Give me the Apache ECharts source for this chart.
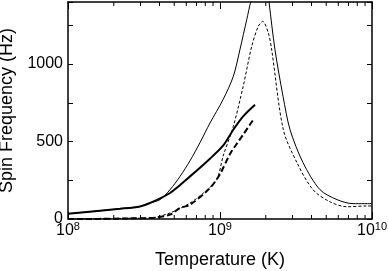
<!DOCTYPE html>
<html>
<head>
<meta charset="utf-8">
<script src="https://cdn.jsdelivr.net/npm/echarts@6/dist/echarts.min.js"></script>
<style>
html,body{margin:0;padding:0;background:#fff;}
#main{width:388px;height:271px;}
</style>
</head>
<body>
<div id="main"></div>
<script>
// temperatures (K) and spin frequencies (Hz)
var thinSolidT  = [1e8, 2.2e8, 2.98e8, 3.46e8, 4.03e8, 4.69e8, 5.46e8, 6.35e8, 7.38e8, 8.59e8, 1.047e9, 1.223e9, 1.354e9, 1.499e9, 1.592e9, 1.75e9, 1.89e9, 2.02e9, 2.1e9, 2.3e9, 2.6e9, 2.89e9, 3.52e9, 4.55e9, 5.89e9, 7.5e9, 1e10];
var thinSolidHz = [34, 66, 81, 103, 125, 189, 275, 376, 492, 619, 770, 920, 1095, 1286, 1402, 1570, 1660, 1540, 1402, 1092, 790, 576, 363, 189, 125, 99, 99];

var thinDashT  = [1e8, 1.62e8, 2.56e8, 3.46e8, 4.69e8, 6.35e8, 7.77e8, 9.51e8, 1.047e9, 1.223e9, 1.42e9, 1.617e9, 1.786e9, 1.91e9, 2.08e9, 2.19e9, 2.61e9, 3.21e9, 4.09e9, 5.29e9, 6.85e9, 9.27e9, 1e10];
var thinDashHz = [0, 2, 5, 6, 39, 103, 168, 254, 404, 597, 855, 1114, 1243, 1275, 1200, 1089, 576, 363, 189, 111, 79, 84, 84];

var thickSolidT  = [1e8, 2.2e8, 2.98e8, 3.46e8, 4.69e8, 6.35e8, 8.59e8, 1.047e9, 1.223e9, 1.42e9, 1.7e9];
var thickSolidHz = [34, 66, 81, 103, 168, 275, 389, 473, 576, 662, 737];

var thickDashT  = [1e8, 1.62e8, 2.56e8, 3.46e8, 4.69e8, 5.46e8, 6.35e8, 8.59e8, 1e9, 1.164e9, 1.3e9, 1.42e9, 1.656e9];
var thickDashHz = [0, 1, 4, 6, 28, 71, 92, 200, 290, 420, 490, 544, 641];

var minorTicks = [2e8, 3e8, 4e8, 5e8, 6e8, 7e8, 8e8, 9e8, 2e9, 3e9, 4e9, 5e9, 6e9, 7e9, 8e9, 9e9];
var yLabelled = [0, 500, 1000];

function pairs(xs, ys){
	var out = [];
	for (var i = 0; i < xs.length; i++) out.push([xs[i], ys[i]]);
	return out;
}

window.onload = function(){
	var myChart = echarts.init(document.getElementById('main'));
	var font = '"Liberation Sans", Arial, sans-serif';
	var edge = {show: true, onZero: false, lineStyle: {color: '#000', width: 1.5}};
	var option = {
		animation: false,
		backgroundColor: '#fff',
		textStyle: {fontFamily: font, color: '#000'},
		grid: {left: 68, right: 16, top: 2, bottom: 52, containLabel: false, outerBoundsMode: 'none'},
		xAxis: [{
			type: 'log',
			logBase: 10,
			min: 1e8,
			max: 1e10,
			position: 'bottom',
			name: 'Temperature (K)',
			nameLocation: 'middle',
			nameGap: 32,
			nameTextStyle: {fontSize: 18, color: '#000', fontFamily: font},
			axisLine: edge,
			axisTick: {inside: true, length: 7, lineStyle: {color: '#000'}},
			splitLine: {show: false},
			axisLabel: {
				margin: 2,
				color: '#000',
				formatter: function(v){
					return '{b|10}{s|' + Math.round(Math.log10(v)) + '}';
				},
				rich: {
					b: {fontSize: 16, fontFamily: font, color: '#000', lineHeight: 18, verticalAlign: 'bottom'},
					s: {fontSize: 11, fontFamily: font, color: '#000', lineHeight: 18, verticalAlign: 'top'}
				}
			}
		}, {
			type: 'log',
			logBase: 10,
			min: 1e8,
			max: 1e10,
			position: 'top',
			axisLine: edge,
			axisTick: {inside: true, length: 7, lineStyle: {color: '#000'}},
			axisLabel: {show: false},
			splitLine: {show: false}
		}],
		yAxis: [{
			type: 'value',
			min: 0,
			max: 1400,
			interval: 250,
			position: 'left',
			name: 'Spin Frequency (Hz)',
			nameLocation: 'middle',
			nameGap: 45,
			nameTextStyle: {fontSize: 18, color: '#000', fontFamily: font},
			axisLine: edge,
			axisTick: {inside: true, length: 5, lineStyle: {color: '#000'}},
			splitLine: {show: false},
			axisLabel: {
				fontSize: 16,
				color: '#000',
				margin: 5,
				formatter: function(v){
					return yLabelled.indexOf(v) >= 0 ? String(v) : '';
				}
			}
		}, {
			type: 'value',
			min: 0,
			max: 1400,
			interval: 250,
			position: 'right',
			axisLine: edge,
			axisTick: {inside: true, length: 5, lineStyle: {color: '#000'}},
			axisLabel: {show: false},
			splitLine: {show: false}
		}],
		series: [
			{
				name: 'thin solid',
				type: 'line',
				data: pairs(thinSolidT, thinSolidHz),
				smooth: 0.3,
				showSymbol: false,
				lineStyle: {color: '#000', width: 1}
			},
			{
				name: 'thin dashed',
				type: 'line',
				data: pairs(thinDashT, thinDashHz),
				smooth: 0.3,
				showSymbol: false,
				lineStyle: {color: '#000', width: 1, type: [3, 2]}
			},
			{
				name: 'thick solid',
				type: 'line',
				data: pairs(thickSolidT, thickSolidHz),
				smooth: 0.3,
				showSymbol: false,
				lineStyle: {color: '#000', width: 2}
			},
			{
				name: 'thick dashed',
				type: 'line',
				data: pairs(thickDashT, thickDashHz),
				smooth: 0.3,
				showSymbol: false,
				lineStyle: {color: '#000', width: 2, type: [6, 3]}
			},
			{
				// minor log ticks (2..9 per decade) on bottom and top edges
				name: 'minor ticks',
				type: 'custom',
				silent: true,
				data: minorTicks.map(function(t){ return [t, 0]; }),
				encode: {x: 0, y: 1},
				renderItem: function(params, api){
					var b = api.coord([api.value(0), 0]);
					var t = api.coord([api.value(0), 1400]);
					return {
						type: 'group',
						children: [
							{type: 'line', shape: {x1: b[0], y1: b[1], x2: b[0], y2: b[1] - 4}, style: {stroke: '#000', lineWidth: 1}},
							{type: 'line', shape: {x1: t[0], y1: t[1], x2: t[0], y2: t[1] + 4}, style: {stroke: '#000', lineWidth: 1}}
						]
					};
				}
			}
		]
	};
	myChart.setOption(option);
};
</script>
</body>
</html>
